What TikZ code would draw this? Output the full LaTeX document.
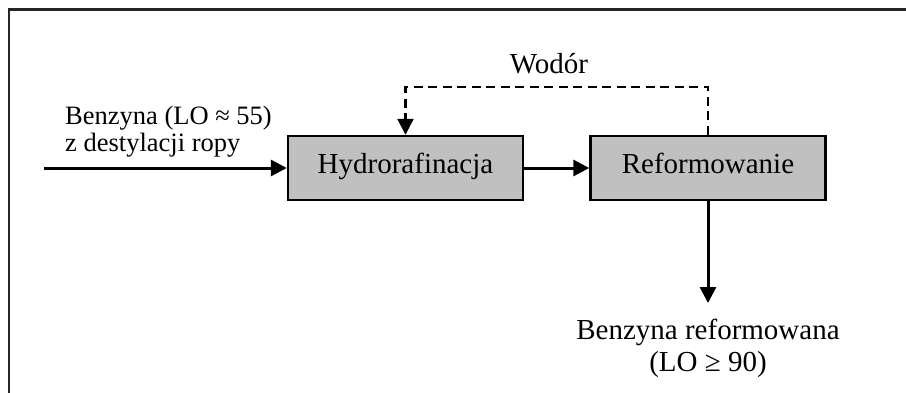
\documentclass[tikz,border=0pt]{standalone}
\usepackage{fontspec}
\setmainfont{Liberation Serif}
\usetikzlibrary{arrows.meta}
\definecolor{boxgray}{HTML}{C0C0C0}
\begin{document}
\begin{tikzpicture}[x=1pt,y=-1pt,
  txt/.style={inner sep=0pt,font=\fontsize{29}{33}\selectfont},
  feedtxt/.style={inner sep=0pt,font=\fontsize{26.5}{30}\selectfont},
  proc/.style={txt,draw=black,line width=2.4pt,fill=boxgray,
    minimum width=235pt,minimum height=64pt,text height=18pt,text depth=8pt},
  tip/.style={-{Triangle[length=16pt,width=16pt]}},
  flow/.style={tip,line width=3pt},
  gasflow/.style={tip,line width=2.4pt,dash pattern=on 9pt off 5.5pt}]
  \useasboundingbox (0,0) rectangle (906,392);

  % outer frame
  \draw[line width=2.2pt,black!85] (9,400) -- (9,9.5) -- (915,9.5);

  % process units
  \node[proc] (hydro)  at (405.5,168) {Hydrorafinacja};
  \node[proc] (reform) at (708,168)   {Reformowanie};

  % feed and product
  \coordinate (feed) at (44,168);
  \coordinate (prod) at (708,303);
  \node[feedtxt,anchor=base west] (feedA) at (65,124) {Benzyna (LO ≈ 55)};
  \node[feedtxt,anchor=base west] (feedB) at (65,151) {z destylacji ropy};
  \node[txt,anchor=base] (prodA) at (708,339) {Benzyna reformowana};
  \node[txt,anchor=base] (prodB) at (708,371) {(LO ≥ 90)};
  \node[txt,anchor=base] (gas) at (549,73) {Wodór};

  % streams
  \draw[flow] (feed) -- (hydro.west);
  \draw[flow] (hydro.east) -- (reform.west);
  \draw[flow] (reform.south) -- (prod);
  \draw[gasflow] (reform.north) -- ++(0,-48) -| (hydro.north);
\end{tikzpicture}
\end{document}
